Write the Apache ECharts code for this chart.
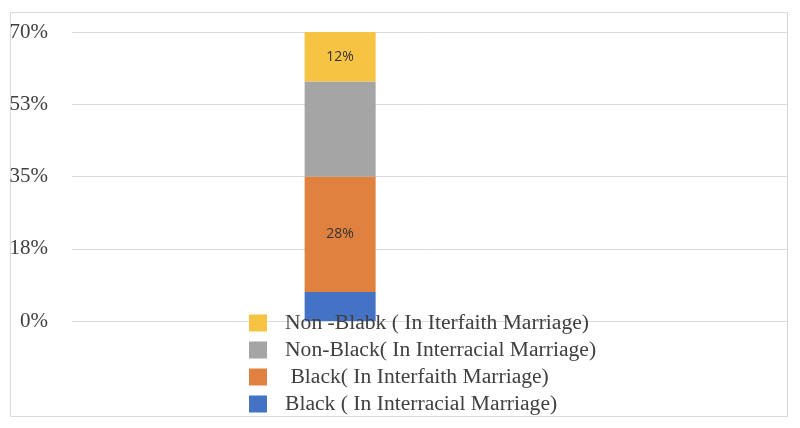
<!DOCTYPE html>
<html>
<head>
<meta charset="utf-8">
<script src="https://cdn.jsdelivr.net/npm/echarts@6/dist/echarts.min.js"></script>
<style>
html,body{margin:0;padding:0;background:#fff;}
#chart{width:800px;height:428px;}
</style>
</head>
<body>
<div id="chart"></div>
<script>
const categories = ['', 'All', '', ''];
const seriesNames = [
  'Black ( In Interracial Marriage)',
  ' Black( In Interfaith Marriage)',
  'Non-Black( In Interracial Marriage)',
  'Non -Blabk ( In Iterfaith Marriage)'
];
const blackInterracial = [null, 7, null, null];
const blackInterfaith = [null, 28, null, null];
const nonBlackInterracial = [null, 23, null, null];
const nonBlackInterfaith = [null, 12, null, null];
const colors = ['#4472C4', '#E0813F', '#A5A5A5', '#F6C342'];
const showLabel = [false, true, false, true];
const yMin = 0, yMax = 70, yStep = 17.5;

const allValues = [blackInterracial, blackInterfaith, nonBlackInterracial, nonBlackInterfaith];

const chart = echarts.init(document.getElementById('chart'));
chart.setOption({
  animation: false,
  graphic: [{
    type: 'rect',
    shape: { x: 10.5, y: 12.5, width: 777, height: 404 },
    style: { fill: 'none', stroke: '#d9d9d9', lineWidth: 1 },
    silent: true
  }],
  grid: { left: 72, right: 13, top: 32, bottom: 107 },
  legend: {
    orient: 'vertical',
    left: 244,
    top: 307,
    height: 140,
    itemWidth: 18,
    itemHeight: 17,
    itemGap: 5,
    icon: 'rect',
    data: [seriesNames[3], seriesNames[2], seriesNames[1], seriesNames[0]],
    textStyle: { fontFamily: 'Liberation Serif', fontSize: 21.6, color: '#404040', padding: [0, 0, 0, 13] }
  },
  xAxis: {
    type: 'category',
    data: categories,
    axisLine: { show: false },
    axisTick: { show: false },
    axisLabel: { show: false }
  },
  yAxis: {
    type: 'value',
    min: yMin,
    max: yMax,
    interval: yStep,
    axisLine: { show: false },
    axisTick: { show: false },
    splitLine: { lineStyle: { color: '#d9d9d9', width: 1 } },
    axisLabel: {
      margin: 24,
      fontFamily: 'Liberation Serif',
      fontSize: 21,
      color: '#404040',
      formatter: v => Math.round(v) + '%'
    }
  },
  series: allValues.map((vals, i) => ({
    name: seriesNames[i],
    type: 'bar',
    stack: 'total',
    barWidth: 71,
    data: vals,
    itemStyle: { color: colors[i] },
    label: {
      show: showLabel[i],
      position: 'inside',
      fontFamily: 'Open Sans',
      fontSize: 14,
      color: '#333333',
      formatter: p => p.value + '%'
    }
  }))
});
</script>
</body>
</html>
